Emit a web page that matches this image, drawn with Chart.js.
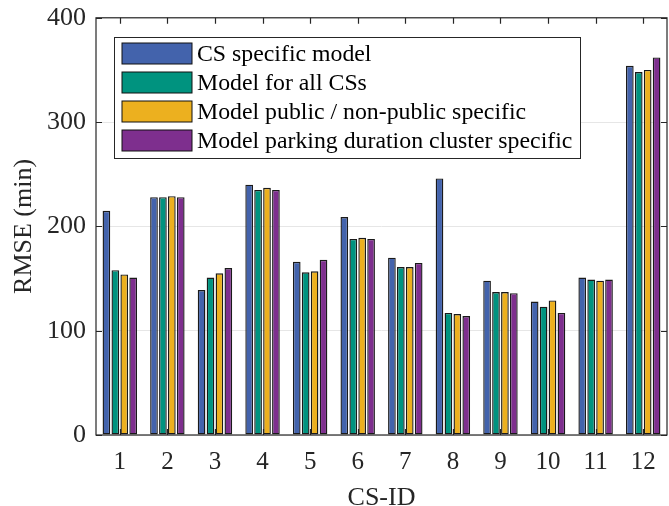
<!DOCTYPE html>
<html>
<head>
<meta charset="utf-8">
<script src="https://cdn.jsdelivr.net/npm/chart.js@4.4.0/dist/chart.umd.min.js"></script>
<style>
  html, body { margin: 0; padding: 0; background: #fff; }
  #wrap { width: 669px; height: 506px; }
</style>
</head>
<body>
<div id="wrap"><canvas id="rmse"></canvas></div>
<script>
// ===== RMSE per charging station =====

const csIds = ["1", "2", "3", "4", "5", "6", "7", "8", "9", "10", "11", "12"];

const csSpecific    = [215, 228, 139, 240, 166, 209, 170, 246, 148, 128, 151, 354];
const allCs         = [158, 228, 151, 235, 156, 188, 161, 117, 137, 123, 149, 348];
const publicModel   = [154, 229, 155, 237, 157, 189, 161, 116, 137, 129, 148, 350];
const durationModel = [151, 228, 160, 235, 168, 188, 165, 114, 136, 117, 149, 362];

const yTicks = [0, 100, 200, 300, 400];

const seriesNames = [
  "CS specific model",
  "Model for all CSs",
  "Model public / non-public specific",
  "Model parking duration cluster specific"
];
const seriesColors = ["#4363ac", "#00937f", "#ecb01f", "#7e2f8e"];

const FONT = "'Liberation Serif', 'DejaVu Serif', serif";

// box, inward ticks and the legend inside the plot (MATLAB look)
const boxPlugin = {
  id: "boxPlugin",
  afterDraw(chart) {
    const { ctx, chartArea: a, scales } = chart;
    ctx.save();
    ctx.strokeStyle = "#262626";
    ctx.lineWidth = 1.2;
    ctx.strokeRect(a.left, a.top, a.right - a.left, a.bottom - a.top);

    // y ticks, both sides
    yTicks.forEach(v => {
      const y = Math.round(scales.y.getPixelForValue(v)) + 0.5;
      ctx.beginPath();
      ctx.moveTo(a.left, y); ctx.lineTo(a.left + 6, y);
      ctx.moveTo(a.right, y); ctx.lineTo(a.right - 6, y);
      ctx.stroke();
    });
    // x ticks, top and bottom
    csIds.forEach((c, i) => {
      const x = Math.round(scales.x.getPixelForValue(i)) + 0.5;
      ctx.beginPath();
      ctx.moveTo(x, a.bottom); ctx.lineTo(x, a.bottom - 6);
      ctx.moveTo(x, a.top); ctx.lineTo(x, a.top + 6);
      ctx.stroke();
    });

    // legend
    const lx = 114, ly = 37, lw = 466, lh = 121;
    ctx.fillStyle = "#fff";
    ctx.fillRect(lx, ly, lw, lh);
    ctx.strokeStyle = "#262626";
    ctx.lineWidth = 1;
    ctx.strokeRect(lx + 0.5, ly + 0.5, lw, lh);
    ctx.font = "23.8px " + FONT;
    ctx.textBaseline = "middle";
    seriesNames.forEach((name, i) => {
      const cy = 53.5 + i * 29;
      ctx.fillStyle = seriesColors[i];
      ctx.fillRect(122, cy - 10.5, 70, 21);
      ctx.strokeStyle = "#111";
      ctx.strokeRect(122, cy - 10.5, 70, 21);
      ctx.fillStyle = "#000";
      ctx.fillText(name, 197, cy + 1);
    });
    ctx.restore();
  }
};

const seriesData = [csSpecific, allCs, publicModel, durationModel];

new Chart(document.getElementById("rmse"), {
  type: "bar",
  data: {
    labels: csIds,
    datasets: seriesData.map((d, i) => ({
      label: seriesNames[i],
      data: d,
      backgroundColor: seriesColors[i],
      borderColor: "#1a1a1a",
      borderWidth: 1.4,
      borderSkipped: false,
      categoryPercentage: 0.75,
      barPercentage: 0.86
    }))
  },
  options: {
    responsive: true,
    maintainAspectRatio: false,
    animation: false,
    layout: { padding: { top: 17, right: 2, left: 0, bottom: 0 } },
    plugins: {
      legend: { display: false },
      tooltip: { enabled: false }
    },
    scales: {
      x: {
        grid: { display: false, drawTicks: false },
        border: { display: false },
        ticks: {
          color: "#262626",
          padding: 12,
          font: { family: FONT, size: 25 }
        },
        title: {
          display: true,
          text: "CS-ID",
          color: "#262626",
          padding: { top: 0, bottom: 0 },
          font: { family: FONT, size: 26, lineHeight: 0.6 }
        },
        afterFit(scale) { scale.height = 71; }
      },
      y: {
        min: 0,
        max: 400,
        grid: { color: "#e6e6e6", lineWidth: 1, drawTicks: false },
        border: { display: false },
        afterBuildTicks(scale) { scale.ticks = yTicks.map(v => ({ value: v })); },
        ticks: {
          color: "#262626",
          padding: 10,
          font: { family: FONT, size: 26, lineHeight: 0.6 }
        },
        title: {
          display: true,
          text: "RMSE (min)",
          color: "#262626",
          padding: { top: 9, bottom: 0 },
          font: { family: FONT, size: 26 }
        },
        afterFit(scale) { scale.width = 96; }
      }
    }
  },
  plugins: [boxPlugin]
});
</script>
</body>
</html>
